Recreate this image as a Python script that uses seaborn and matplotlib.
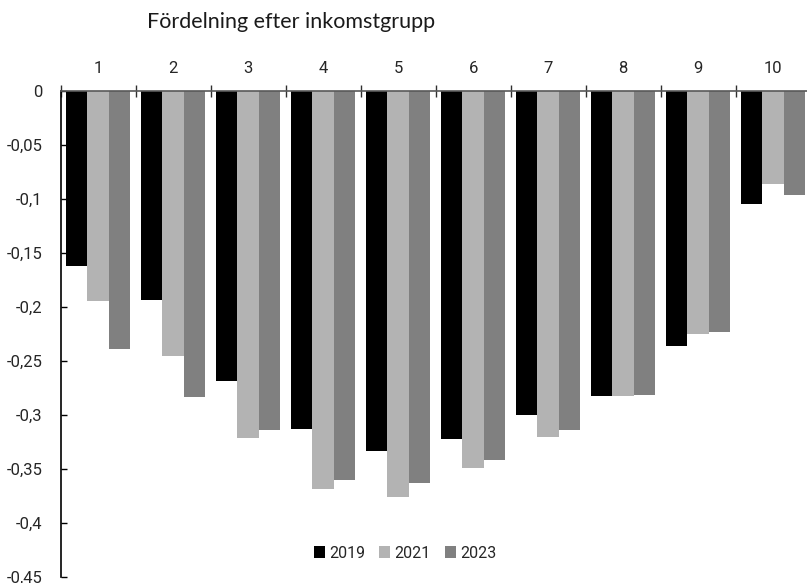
import matplotlib
matplotlib.use("Agg")
import matplotlib.pyplot as plt
import seaborn as sns
import pandas as pd

# ---- data ----
groups = ["1", "2", "3", "4", "5", "6", "7", "8", "9", "10"]
years = ["2019", "2021", "2023"]
v2019 = [-0.162, -0.193, -0.268, -0.313, -0.333, -0.322, -0.300, -0.282, -0.236, -0.104]
v2021 = [-0.194, -0.245, -0.321, -0.368, -0.376, -0.349, -0.320, -0.282, -0.225, -0.086]
v2023 = [-0.239, -0.283, -0.314, -0.360, -0.363, -0.341, -0.314, -0.281, -0.223, -0.096]
yticks = [0, -0.05, -0.1, -0.15, -0.2, -0.25, -0.3, -0.35, -0.4, -0.45]
title = "Fördelning efter inkomstgrupp"
colors = ["#000000", "#b3b3b3", "#808080"]

df = pd.DataFrame({
    "grupp": groups * 3,
    "år": [years[0]] * 10 + [years[1]] * 10 + [years[2]] * 10,
    "värde": v2019 + v2021 + v2023,
})

sns.set_style("white")
plt.rcParams["font.family"] = ["Roboto", "DejaVu Sans"]

fig = plt.figure(figsize=(8.07, 5.83), dpi=100)
ax = fig.add_axes([60.7 / 807, (583 - 577.3) / 583, 750 / 807, 486 / 583])

sns.barplot(data=df, x="grupp", y="värde", hue="år", hue_order=years,
            order=groups, palette=colors, width=0.86, saturation=1,
            linewidth=0, ax=ax)

ax.set_xlim(-0.5, 9.5)
ax.set_ylim(-0.45, 0)
ax.set_xlabel("")
ax.set_ylabel("")

# spines
for s in ["right", "bottom"]:
    ax.spines[s].set_visible(False)
ax.spines["top"].set_color("#595959")
ax.spines["top"].set_linewidth(1.2)
ax.spines["left"].set_color("#000000")
ax.spines["left"].set_linewidth(1.2)

# x axis on top
ax.xaxis.set_ticks_position("top")
ax.xaxis.set_label_position("top")
ax.set_xticks(range(len(groups)))
ax.set_xticklabels(groups)
ax.set_xticks([i - 0.5 for i in range(len(groups) + 1)], minor=True)
ax.tick_params(axis="x", which="major", length=0, pad=11, labelsize=12,
               top=True, bottom=False, labeltop=True, labelbottom=False)
ax.tick_params(axis="x", which="minor", length=8.5, width=1.0,
               direction="inout", color="#303030", top=True, bottom=False)

# y axis
ax.set_yticks(yticks)
ax.set_yticklabels([("%g" % v).replace(".", ",") if v != 0 else "0" for v in yticks])
ax.tick_params(axis="y", length=4.5, width=1.0, direction="in",
               color="#000000", pad=13, labelsize=12, left=True)

# legend
sns.move_legend(ax, "center", bbox_to_anchor=(405 / 807, 1 - 553 / 583),
                bbox_transform=fig.transFigure, ncol=3, frameon=False,
                title=None, fontsize=11.5, handlelength=0.7, handleheight=0.7,
                handletextpad=0.25, columnspacing=0.9)

fig.text(147 / 807, 1 - 22 / 583, title, ha="left", va="center",
         fontsize=15.5, family=["Lato", "DejaVu Sans"], color="#1a1a1a")

fig.savefig("out.png", dpi=100)
